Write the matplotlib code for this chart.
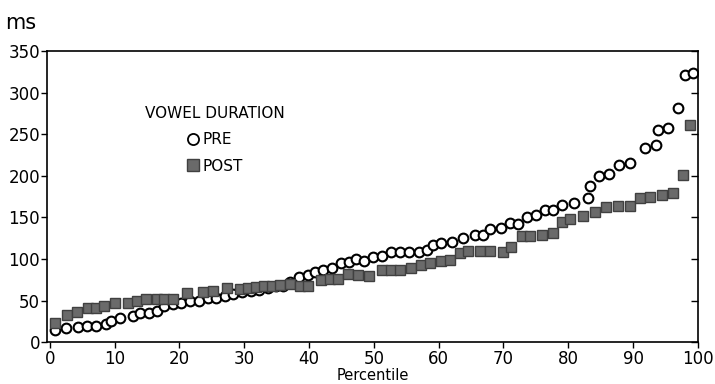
import matplotlib.pyplot as plt
from matplotlib.lines import Line2D

# vowel duration (ms) by percentile
pre_pct = [0.8, 2.5, 4.3, 5.8, 7.2, 8.7, 9.5, 10.9, 12.8, 13.9, 15.3, 16.5, 17.7,
           19.0, 20.3, 21.6, 23.1, 24.4, 25.6, 27.0, 28.3, 29.7, 31.0, 32.3, 33.6,
           34.9, 36.0, 37.0, 38.5, 39.8, 41.0, 42.2, 43.6, 44.9, 46.2, 47.3, 48.5,
           49.9, 51.3, 52.6, 54.1, 55.4, 56.9, 58.2, 59.2, 60.4, 62.0, 63.7, 65.6,
           66.9, 68.0, 69.7, 71.0, 72.3, 73.7, 75.1, 76.4, 77.6, 79.0, 80.9, 83.0,
           83.3, 84.7, 86.3, 87.9, 89.5, 91.9, 93.5, 93.8, 95.4, 96.9, 98.0, 99.2]
pre_ms = [15, 17, 18, 19, 19, 22, 26, 29, 31, 35, 35, 37, 43,
          46, 47, 50, 50, 53, 53, 56, 58, 60, 62, 63, 65,
          67, 68, 72, 78, 81, 84, 87, 89, 95, 96, 100, 98,
          102, 104, 108, 108, 108, 108, 111, 117, 119, 121, 125, 129,
          129, 136, 137, 143, 142, 151, 153, 159, 159, 165, 167, 173,
          188, 200, 202, 213, 215, 233, 237, 255, 258, 282, 321, 324]

post_pct = [0.8, 2.6, 4.2, 5.9, 7.2, 8.3, 10.0, 12.1, 13.4, 14.9, 16.5, 17.7, 19.0,
            21.1, 23.7, 25.2, 27.3, 29.3, 30.6, 31.8, 33.0, 34.3, 35.6, 37.0, 38.6,
            39.9, 41.9, 43.2, 44.5, 46.0, 47.6, 49.3, 51.3, 52.6, 54.0, 55.8, 57.3,
            58.6, 60.3, 61.7, 63.3, 64.6, 66.4, 67.9, 70.0, 71.2, 72.8, 74.1, 75.9,
            77.7, 79.0, 80.2, 82.3, 84.1, 85.9, 87.7, 89.5, 91.0, 92.6, 94.4, 96.2,
            97.7, 98.8]
post_ms = [23, 33, 36, 41, 41, 43, 47, 47, 49, 52, 52, 52, 52,
           59, 60, 61, 65, 64, 65, 66, 67, 68, 69, 70, 67,
           67, 75, 76, 76, 82, 81, 79, 87, 87, 87, 89, 93,
           95, 97, 99, 107, 109, 109, 109, 108, 115, 128, 128, 129,
           131, 144, 148, 152, 156, 162, 164, 164, 173, 175, 177, 179,
           201, 261]

fig = plt.figure(figsize=(7.15, 3.84), dpi=100)
ax = fig.add_axes([0.066, 0.109, 0.910, 0.758])

ax.plot(pre_pct, pre_ms, 'o', ms=7, mfc='white', mec='black', mew=1.5, ls='none')
ax.plot(post_pct, post_ms, 's', ms=7.5, mfc='#6a6a6a', mec='#404040', mew=1.0, ls='none')

ax.set_xlim(-0.4, 100)
ax.set_ylim(0, 350)
ax.set_xticks(range(0, 101, 10))
ax.set_yticks(range(0, 351, 50))
ax.tick_params(axis='both', labelsize=12, length=4, width=1, direction='out', pad=1)
ax.tick_params(axis='x', pad=1.5)
ax.tick_params(axis='y', right=True)
for sp in ax.spines.values():
    sp.set_linewidth(1.2)

# right-side ticks point inward
for t in ax.yaxis.get_major_ticks():
    t.tick2line.set_marker(0)  # TICKLEFT
    t.tick2line.set_markersize(5)

ax.set_xlabel("Percentile", fontsize=10.5, labelpad=0.5)
fig.text(0.007, 0.94, "ms", fontsize=15, ha='left', va='center')

handles = [Line2D([], [], marker='o', ls='none', ms=8, mfc='white', mec='black', mew=1.3),
           Line2D([], [], marker='s', ls='none', ms=8, mfc='#6a6a6a', mec='#404040')]
leg = ax.legend(handles, ['PRE', 'POST'], title='VOWEL DURATION', frameon=False,
                loc='center', bbox_to_anchor=(0.258, 0.695), fontsize=11,
                title_fontsize=11, handlelength=0.8, handletextpad=0.2,
                labelspacing=0.75)

fig.savefig("out.png", dpi=100)
